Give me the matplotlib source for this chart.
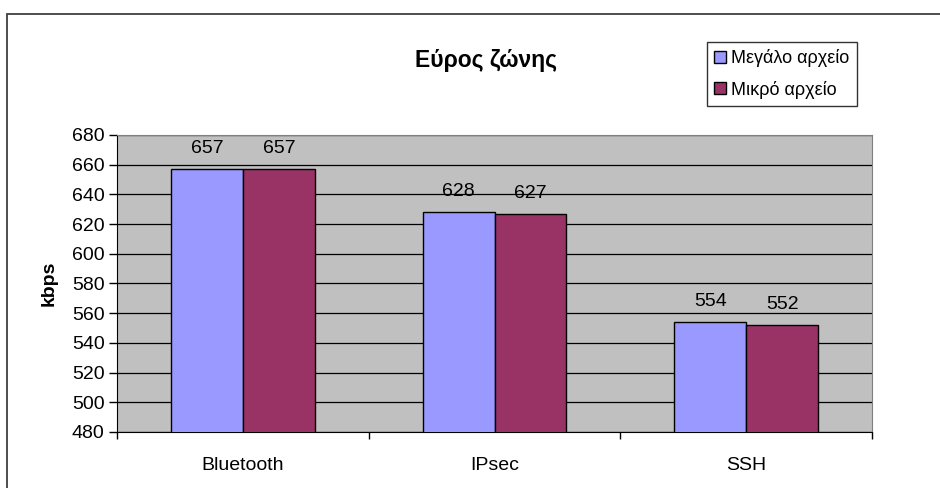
import matplotlib
matplotlib.use("Agg")
import matplotlib.pyplot as plt
from matplotlib.patches import Rectangle
import numpy as np

plt.rcParams['font.family'] = ['Liberation Sans', 'DejaVu Sans']

categories = ["Bluetooth", "IPsec", "SSH"]
large_file = [657, 628, 554]
small_file = [657, 627, 552]
series_names = ["Μεγάλο αρχείο", "Μικρό αρχείο"]
y_ticks = list(range(480, 681, 20))

W, H = 940, 488
fig = plt.figure(figsize=(W / 100, H / 100), dpi=100)
fig.patch.set_facecolor("white")

# chart frame, running off the right and bottom edges
fig.patches.append(Rectangle((7 / W, -0.1), 1.1, 1 - 14 / H + 0.1,
                             transform=fig.transFigure, fill=False,
                             edgecolor="#404040", linewidth=1.3))

ax = fig.add_axes([117 / W, (H - 432) / H, (872 - 117) / W, (432 - 135) / H])
ax.set_facecolor("#C0C0C0")

x = np.arange(len(categories))
bw = 0.286
b1 = ax.bar(x - bw / 2, large_file, bw, color="#9999FF", edgecolor="black",
            linewidth=1, label=series_names[0], zorder=3)
b2 = ax.bar(x + bw / 2, small_file, bw, color="#993366", edgecolor="black",
            linewidth=1, label=series_names[1], zorder=3)

for bars, vals in ((b1, large_file), (b2, small_file)):
    for rect, v in zip(bars, vals):
        ax.annotate(f"{v}", (rect.get_x() + rect.get_width() / 2, v),
                    xytext=(0, 11.5), textcoords="offset points",
                    ha="center", va="baseline", fontsize=14, zorder=4)

ax.set_ylim(480, 680)
ax.set_xlim(-0.5, len(categories) - 0.5)
ax.set_yticks(y_ticks)
ax.yaxis.grid(True, color="black", linewidth=0.9, zorder=1)
ax.set_axisbelow(True)

ax.set_xticks(x)
ax.set_xticklabels(categories)
ax.set_xticks(np.arange(-0.5, len(categories)), minor=True)
ax.tick_params(axis="x", which="major", length=0, pad=18, labelsize=14)
ax.tick_params(axis="x", which="minor", length=5, width=1, color="black")
ax.tick_params(axis="y", length=6, width=1, pad=3, labelsize=14)

for side in ("top", "right"):
    ax.spines[side].set_color("#808080")
for side in ("left", "bottom"):
    ax.spines[side].set_color("black")

ax.set_ylabel("kbps", fontsize=14, fontweight="bold", labelpad=10)

fig.text(486 / W, 1 - 60 / H, "Εύρος ζώνης", ha="center", va="center",
         fontsize=16.5, fontweight="bold")

leg = fig.legend(handles=[b1, b2], labels=series_names,
                 loc="upper left", bbox_to_anchor=(707 / W, 1 - 42 / H),
                 frameon=True, fancybox=False, edgecolor="black",
                 fontsize=13, handlelength=0.65, handleheight=0.65,
                 handletextpad=0.3, borderpad=0.4, labelspacing=0.75,
                 borderaxespad=0)
leg.get_frame().set_linewidth(1)

fig.savefig("out.png", dpi=100)
